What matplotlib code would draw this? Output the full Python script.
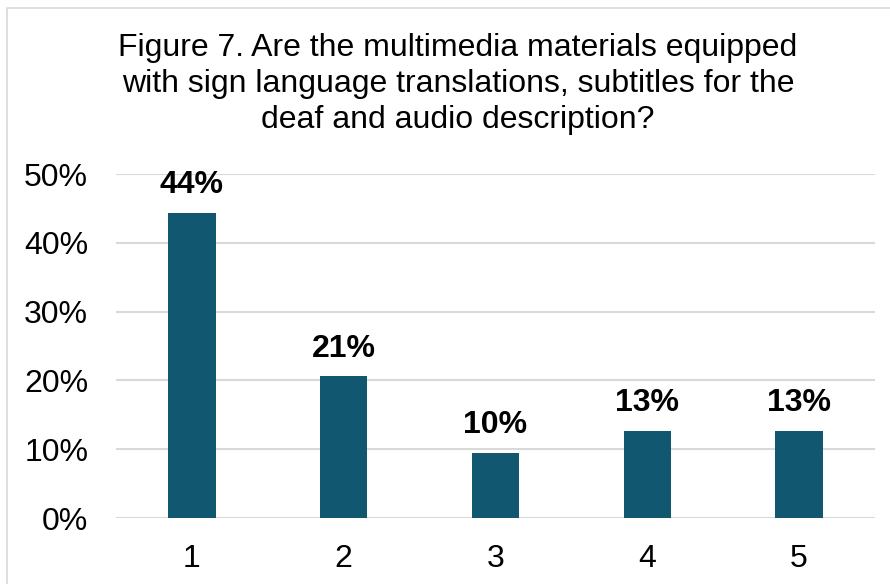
import matplotlib
matplotlib.use("Agg")
import matplotlib.pyplot as plt
from matplotlib.patches import Rectangle

# Data
categories = ["1", "2", "3", "4", "5"]
shares = [0.444, 0.206, 0.095, 0.127, 0.127]
share_labels = ["44%", "21%", "10%", "13%", "13%"]
y_ticks = [0.0, 0.1, 0.2, 0.3, 0.4, 0.5]
y_tick_labels = ["0%", "10%", "20%", "30%", "40%", "50%"]
title = ("Figure 7. Are the multimedia materials equipped\n"
         "with sign language translations, subtitles for the\n"
         "deaf and audio description?")

plt.rcParams['font.family'] = ['Liberation Sans', 'DejaVu Sans']

W, H = 890, 584
fig = plt.figure(figsize=(W / 100, H / 100), dpi=100)
fig.patch.set_facecolor('white')

# chart frame (left and top edges visible)
frame = Rectangle((7 / W, -0.1), 1.2, (H - 8) / H + 0.1, transform=fig.transFigure,
                  fill=False, edgecolor='#d9d9d9', linewidth=1.2)
fig.patches.append(frame)

left, right = 116 / W, 875 / W
bottom, top = (H - 518) / H, (H - 174) / H
ax = fig.add_axes([left, bottom, right - left, top - bottom])

x = range(len(categories))
bars = ax.bar(x, shares, width=0.313, color='#11576f', zorder=3)
ax.set_xlim(-0.5, len(categories) - 0.5)
ax.set_ylim(0, 0.5)
ax.set_xticks(list(x))
ax.set_xticklabels(categories)
ax.set_yticks(y_ticks)
ax.set_yticklabels(y_tick_labels)
ax.tick_params(axis='y', length=0, pad=20, labelsize=23)
ax.tick_params(axis='x', length=0, pad=19, labelsize=23)
ax.grid(axis='y', color='#d9d9d9', linewidth=1.5, zorder=0)
for s in ax.spines.values():
    s.set_visible(False)

for b, lab in zip(bars, share_labels):
    ax.annotate(lab, (b.get_x() + b.get_width() / 2, b.get_height()),
                xytext=(0, 9), textcoords='offset points',
                ha='center', va='bottom', fontsize=23, fontweight='bold')

fig.text(458 / W, 1 - 33 / H, title, ha='center', va='top', fontsize=23,
         linespacing=1.26)

fig.savefig("out.png", dpi=100)
